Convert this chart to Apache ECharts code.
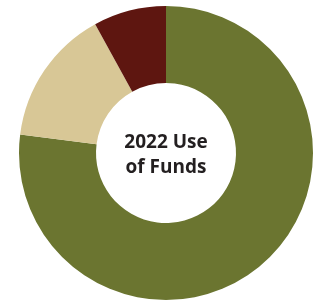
<!DOCTYPE html>
<html>
<head>
<meta charset="utf-8">
<script src="https://cdn.jsdelivr.net/npm/echarts@6/dist/echarts.min.js"></script>
<style>
  html, body { margin: 0; padding: 0; background: #fff; }
  #chart { width: 322px; height: 304px; }
</style>
</head>
<body>
<div id="chart"></div>
<script>
var categories = ['Programs', 'Fundraising', 'Administration'];
var values = [77, 15, 8];
var colors = ['#6b7530', '#d8c796', '#5e1610'];

var chart = echarts.init(document.getElementById('chart'));

var pieData = [];
for (var i = 0; i < categories.length; i++) {
    pieData.push({ name: categories[i], value: values[i], itemStyle: { color: colors[i] } });
}

var option = {
    animation: false,
    graphic: [{
        type: 'text',
        x: 166,
        y: 155,
        style: {
            text: '2022 Use\nof Funds',
            align: 'center',
            verticalAlign: 'middle',
            fontFamily: 'Open Sans',
            fontWeight: 'bold',
            fontSize: 19,
            lineHeight: 25,
            fill: '#231f20'
        }
    }],
    series: [{
        type: 'pie',
        center: [166, 153],
        radius: [70, 147],
        startAngle: 90,
        clockwise: true,
        label: { show: false },
        labelLine: { show: false },
        data: pieData
    }]
};

chart.setOption(option);
</script>
</body>
</html>
